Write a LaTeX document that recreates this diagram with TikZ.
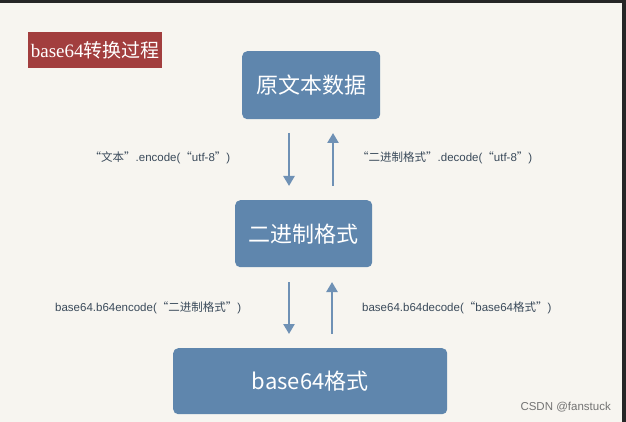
\documentclass[tikz,border=0pt]{standalone}
\usepackage{fontspec}
\setmainfont{Liberation Sans}
\newfontfamily\cjk{Noto Sans CJK SC}
\newfontfamily\titlefont{Liberation Serif}
\usetikzlibrary{arrows.meta}
\definecolor{paper}{HTML}{F7F5F0}
\definecolor{boxblue}{HTML}{5F86AD}
\definecolor{arrowblue}{HTML}{6F91B5}
\definecolor{titlered}{HTML}{A23E3E}
\definecolor{labeltext}{HTML}{3A4A5A}
\begin{document}
\begin{tikzpicture}[x=1pt, y=-1pt,
    stepbox/.style={fill=boxblue,rounded corners=5pt,text=white,font=\cjk\fontsize{22}{26}\selectfont,inner sep=0},
    flow/.style={arrowblue,line width=2.8pt,-{Triangle[length=10pt,width=11pt]}},
    codelabel/.style={text=labeltext,font=\fontsize{11.5}{13}\selectfont,inner sep=0}]
        \fill[black!85] (0,0) rectangle (626,422);
        \fill[paper] (0,3) rectangle (622,422);
        \node at (28,32) [fill=titlered,text=white,minimum width=134pt,minimum height=36pt,anchor=north west,inner sep=0,font=\titlefont\fontsize{19}{22}\selectfont] (title) {base64{\cjk 转换过程}};
        \node at (242,51) [stepbox,minimum width=138pt,minimum height=68pt,anchor=north west] (raw) {原文本数据};
        \node at (235,200) [stepbox,minimum width=137pt,minimum height=67pt,anchor=north west] (bin) {二进制格式};
        \node at (173,348) [stepbox,minimum width=274pt,minimum height=66pt,anchor=north west] (b64) {base64{\cjk 格式}};
        % arrows between the boxes
        \coordinate (a1) at (289,133);
        \coordinate (a2) at (289,186);
        \coordinate (a3) at (333,186);
        \coordinate (a4) at (333,133);
        \coordinate (b1) at (289,282);
        \coordinate (b2) at (289,334);
        \coordinate (b3) at (332,334);
        \coordinate (b4) at (332,282);
        \draw[flow] (a1) -- (a2);
        \draw[flow] (a3) -- (a4);
        \draw[flow] (b1) -- (b2);
        \draw[flow] (b3) -- (b4);
        \node at (160,158) [codelabel] (enc) {{\cjk “文本”}.encode({\cjk “}utf-8{\cjk ”})};
        \node at (357,158) [codelabel,anchor=west] (dec) {{\cjk “二进制格式”}.decode({\cjk “}utf-8{\cjk ”})};
        \node at (55,308) [codelabel,anchor=west] (benc) {base64.b64encode({\cjk “二进制格式”})};
        \node at (362,308) [codelabel,anchor=west] (bdec) {base64.b64decode({\cjk “}base64{\cjk 格式”})};
        \node at (611,407) [anchor=east,text=black!55,font=\fontsize{11.5}{13}\selectfont,inner sep=0] (mark) {CSDN @fanstuck};
    \end{tikzpicture}
\end{document}
